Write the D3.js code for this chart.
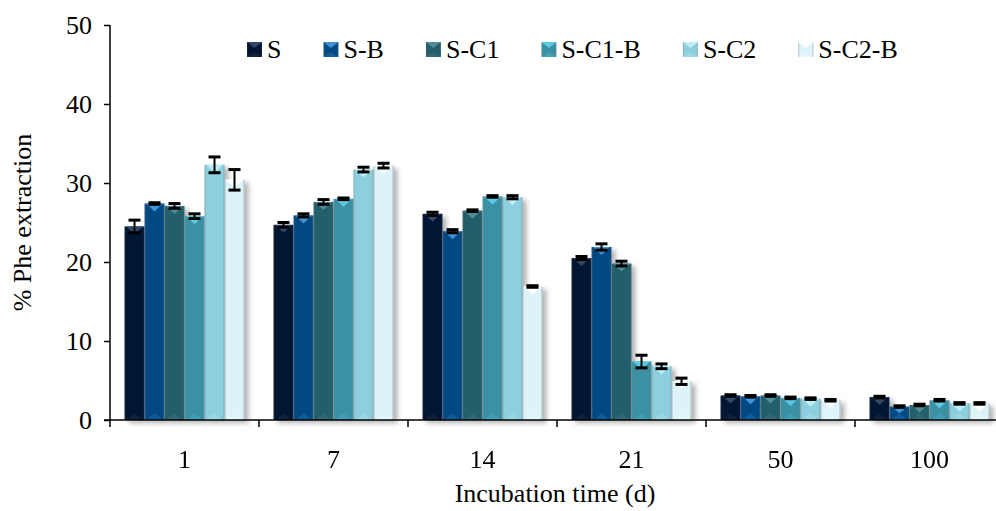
<!DOCTYPE html>
<html>
<head>
<meta charset="utf-8">
<script src="https://cdn.jsdelivr.net/npm/d3@7/dist/d3.min.js"></script>
<style>
  html, body { margin: 0; padding: 0; background: #ffffff; }
  svg { display: block; font-family: "Liberation Serif", "Times New Roman", serif; }
</style>
</head>
<body>
<svg id="chart" width="996" height="511"></svg>
<script>
// Incubation times (days) on the x axis
const categories = ["1", "7", "14", "21", "50", "100"];
const seriesNames = ["S", "S-B", "S-C1", "S-C1-B", "S-C2", "S-C2-B"];

// % Phe extraction, one array per treatment (same order as categories)
const valuesS     = [24.5, 24.7, 26.1, 20.5, 3.1, 2.9];
const valuesSB    = [27.4, 25.9, 23.9, 21.9, 3.0, 1.7];
const valuesSC1   = [27.1, 27.6, 26.5, 19.8, 3.1, 1.9];
const valuesSC1B  = [25.8, 28.0, 28.3, 7.4, 2.8, 2.5];
const valuesSC2   = [32.3, 31.7, 28.2, 6.8, 2.7, 2.1];
const valuesSC2B  = [30.4, 32.2, 16.9, 4.9, 2.5, 2.1];

// Standard errors
const errorsS     = [0.8, 0.3, 0.2, 0.2, 0.1, 0.1];
const errorsSB    = [0.1, 0.2, 0.2, 0.4, 0.1, 0.1];
const errorsSC1   = [0.3, 0.3, 0.1, 0.3, 0.1, 0.1];
const errorsSC1B  = [0.3, 0.1, 0.1, 0.8, 0.1, 0.1];
const errorsSC2   = [1.0, 0.3, 0.2, 0.3, 0.1, 0.1];
const errorsSC2B  = [1.3, 0.3, 0.1, 0.4, 0.1, 0.1];

const yTicks = [0, 10, 20, 30, 40, 50];

const seriesValues = [valuesS, valuesSB, valuesSC1, valuesSC1B, valuesSC2, valuesSC2B];
const seriesErrors = [errorsS, errorsSB, errorsSC1, errorsSC1B, errorsSC2, errorsSC2B];

// Fill colours: base, edge, top highlight
const baseColors  = ["#041432", "#024a82", "#245e6a", "#3a90a3", "#8ecfdf", "#dcf3f8"];
const edgeColors  = ["#1c2a44", "#2a5a84", "#3e6670", "#5a8f9c", "#7fa8b3", "#a9bcc1"];
const topColors   = ["#34476b", "#3f93d4", "#4f8d99", "#5ccbe2", "#bdeef8", "#ffffff"];

const svg = d3.select("#chart");
const margin = { left: 110, top: 25, bottom: 420, right: 1004 };

const x = d3.scaleBand().domain(categories).range([margin.left, margin.right]).paddingInner(0).paddingOuter(0);
const xs = d3.scaleBand().domain(seriesNames).range([0, x.bandwidth()]).paddingInner(0).paddingOuter(0.725);
const y = d3.scaleLinear().domain([0, 50]).range([margin.bottom, margin.top]);

const defs = svg.append("defs");
const shadow = defs.append("filter").attr("id", "barShadow")
  .attr("x", "-20%").attr("y", "-20%").attr("width", "160%").attr("height", "140%");
shadow.append("feDropShadow").attr("dx", 4).attr("dy", 3).attr("stdDeviation", 2.5)
  .attr("flood-color", "#000").attr("flood-opacity", 0.3);

seriesNames.forEach((name, i) => {
  const g = defs.append("linearGradient").attr("id", "grad" + i)
    .attr("x1", "0%").attr("x2", "100%").attr("y1", "0%").attr("y2", "0%");
  g.append("stop").attr("offset", "0%").attr("stop-color", edgeColors[i]);
  g.append("stop").attr("offset", "10%").attr("stop-color", baseColors[i]);
  g.append("stop").attr("offset", "90%").attr("stop-color", baseColors[i]);
  g.append("stop").attr("offset", "100%").attr("stop-color", edgeColors[i]);
});

// Flattened bar records
const bars = [];
categories.forEach((c, ci) => {
  seriesNames.forEach((s, si) => {
    bars.push({ cat: c, series: s, si, value: seriesValues[si][ci], err: seriesErrors[si][ci] });
  });
});

// Bars with bevelled look
const barLayer = svg.append("g").attr("filter", "url(#barShadow)");
const barG = barLayer.selectAll("g.bar").data(bars).join("g").attr("class", "bar");

barG.append("rect")
  .attr("x", d => x(d.cat) + xs(d.series))
  .attr("y", d => y(d.value))
  .attr("width", xs.bandwidth())
  .attr("height", d => y(0) - y(d.value))
  .attr("fill", d => `url(#grad${d.si})`);

barG.append("path")
  .attr("d", d => {
    const x0 = x(d.cat) + xs(d.series), w = xs.bandwidth();
    const top = y(d.value), h = Math.min(8, (y(0) - top) / 2);
    return `M${x0 + 1.5},${top}L${x0 + w - 1.5},${top}L${x0 + w / 2},${top + h}Z`;
  })
  .attr("fill", d => topColors[d.si]);

barG.append("path")
  .attr("d", d => {
    const x0 = x(d.cat) + xs(d.series), w = xs.bandwidth();
    const bot = y(0), h = Math.min(7, (y(0) - y(d.value)) / 2);
    return `M${x0 + 2},${bot}L${x0 + w - 2},${bot}L${x0 + w / 2},${bot - h}Z`;
  })
  .attr("fill", d => topColors[d.si]).attr("opacity", 0.25);

// Error bars
const errG = svg.append("g").attr("stroke", "#000");
const cx = d => x(d.cat) + xs(d.series) + xs.bandwidth() / 2;
errG.selectAll("line.v").data(bars).join("line").attr("class", "v")
  .attr("x1", cx).attr("x2", cx)
  .attr("y1", d => y(d.value + d.err)).attr("y2", d => y(d.value - d.err))
  .attr("stroke-width", 2);
["+", "-"].forEach(sign => {
  errG.selectAll("line.cap" + (sign === "+" ? "hi" : "lo")).data(bars).join("line")
    .attr("class", "cap" + (sign === "+" ? "hi" : "lo"))
    .attr("x1", d => cx(d) - 6).attr("x2", d => cx(d) + 6)
    .attr("y1", d => y(sign === "+" ? d.value + d.err : d.value - d.err))
    .attr("y2", d => y(sign === "+" ? d.value + d.err : d.value - d.err))
    .attr("stroke-width", 3);
});

// Y axis
const yAxis = svg.append("g").attr("transform", `translate(${margin.left},0)`)
  .call(d3.axisLeft(y).tickValues(yTicks).tickSize(6).tickPadding(12).tickFormat(d3.format("d")));
yAxis.select(".domain").attr("stroke", "#000").attr("stroke-width", 1.5).attr("d", `M0,${y(50)}V${y(0)}`);
yAxis.selectAll(".tick line").attr("stroke", "#000").attr("stroke-width", 1.5);
yAxis.selectAll(".tick text").attr("font-family", "Liberation Serif").attr("font-size", 26).attr("fill", "#000");

// X axis: labels centred in each group, tick marks at group boundaries
const xAxis = svg.append("g").attr("transform", `translate(0,${y(0)})`)
  .call(d3.axisBottom(x).tickSize(0).tickPadding(30));
xAxis.select(".domain").remove();
xAxis.selectAll(".tick text").attr("font-family", "Liberation Serif").attr("font-size", 26).attr("fill", "#000");
xAxis.append("line").attr("x1", margin.left - 6).attr("x2", margin.right)
  .attr("y1", 0).attr("y2", 0).attr("stroke", "#000").attr("stroke-width", 1.5);
xAxis.selectAll("line.bound").data(categories.map(c => x(c)).concat([margin.right]))
  .join("line").attr("class", "bound")
  .attr("x1", d => d).attr("x2", d => d).attr("y1", 0).attr("y2", 7)
  .attr("stroke", "#000").attr("stroke-width", 1.5);

// Axis titles
svg.append("text").attr("x", (margin.left + margin.right) / 2 - 2).attr("y", 502)
  .attr("text-anchor", "middle").attr("font-size", 26).attr("fill", "#000")
  .text("Incubation time (d)");
svg.append("text").attr("transform", `translate(31,${(y(0) + y(50)) / 2}) rotate(-90)`)
  .attr("text-anchor", "middle").attr("font-size", 26).attr("fill", "#000")
  .text("% Phe extraction");

// Legend
const legend = svg.append("g").attr("transform", "translate(247,42)");
let lx = 0;
seriesNames.forEach((name, i) => {
  const item = legend.append("g").attr("transform", `translate(${lx},0)`);
  item.append("rect").attr("width", 15).attr("height", 15).attr("fill", `url(#grad${i})`);
  item.append("path").attr("d", "M0,0L15,0L7.5,6Z").attr("fill", topColors[i]);
  item.append("path").attr("d", "M0,15L15,15L7.5,10Z").attr("fill", topColors[i]).attr("opacity", 0.3);
  const t = item.append("text").attr("x", 20).attr("y", 16).attr("font-size", 26).attr("fill", "#000").text(name);
  lx += 20 + t.node().getComputedTextLength() + 42;
});
</script>
</body>
</html>
